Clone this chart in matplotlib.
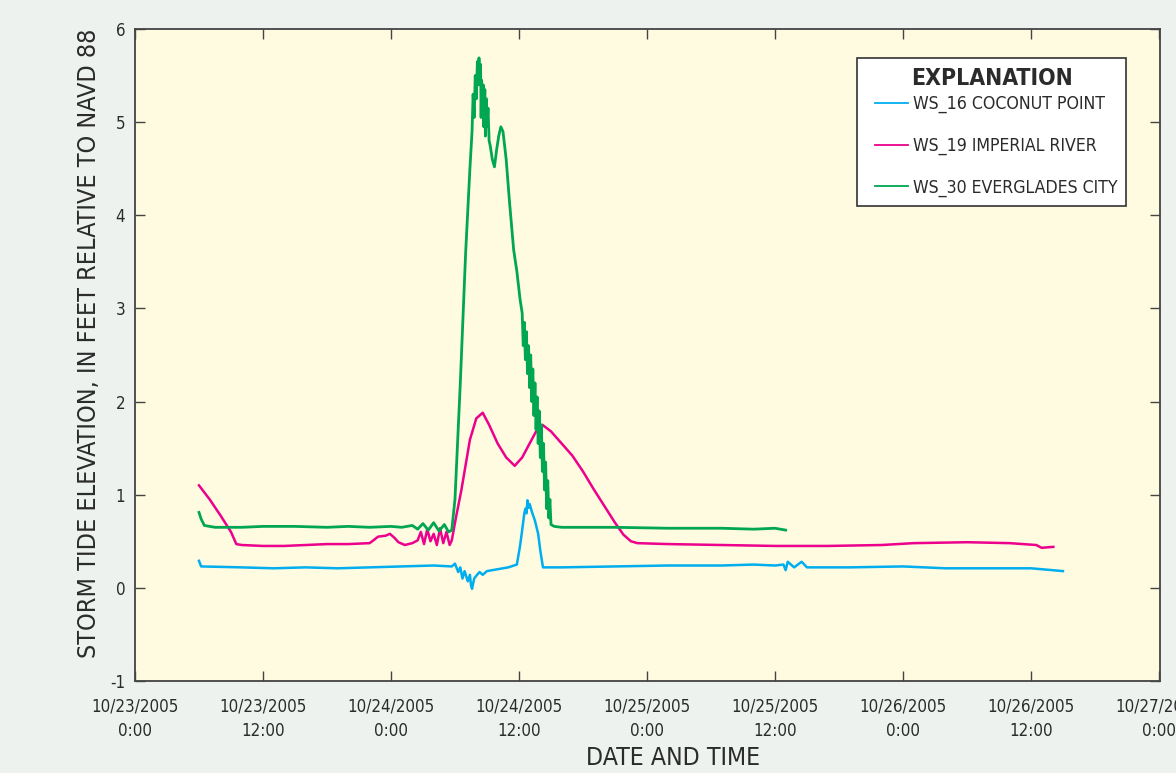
import matplotlib
matplotlib.use("Agg")
import matplotlib.pyplot as plt
from matplotlib.lines import Line2D
from matplotlib.legend_handler import HandlerLine2D

plt.rcParams['font.family'] = ['DejaVu Sans']
plt.rcParams['font.stretch'] = 'condensed'
plt.rcParams['axes.unicode_minus'] = False

# hours after 10/23/2005 0:00, elevation in feet (NAVD 88)
ws16_hours = [6.0, 6.2, 10, 13, 16, 19, 22, 25, 28, 29.7, 30.0, 30.3, 30.5, 30.7,
              30.9, 31.2, 31.4, 31.5, 31.6, 31.8, 32.0, 32.3, 32.6, 33.0, 34.0,
              35.0, 35.8, 36.1, 36.3, 36.5, 36.6, 36.7, 36.8, 36.9, 37.0, 37.2,
              37.5, 37.8, 38.0, 38.25, 40, 45, 50, 55, 58, 60, 60.8, 61.0, 61.2,
              61.8, 62.5, 63, 67, 72, 76, 80, 84, 86, 87]
ws16_vals = [0.29, 0.23, 0.22, 0.21, 0.22, 0.21, 0.22, 0.23, 0.24, 0.23, 0.26,
             0.17, 0.22, 0.10, 0.18, 0.07, 0.14, 0.03, -0.01, 0.10, 0.13, 0.17,
             0.14, 0.18, 0.20, 0.22, 0.25, 0.45, 0.62, 0.80, 0.85, 0.80, 0.94,
             0.86, 0.90, 0.82, 0.72, 0.58, 0.40, 0.22, 0.22, 0.23, 0.24, 0.24,
             0.25, 0.24, 0.25, 0.19, 0.28, 0.22, 0.28, 0.22, 0.22, 0.23, 0.21,
             0.21, 0.21, 0.19, 0.18]

ws19_hours = [6.0, 7.0, 8.0, 9.0, 9.5, 10, 12, 14, 16, 18, 20, 22.0, 22.8, 23.5,
              23.9, 24.3, 24.7, 25.3, 26.0, 26.5, 26.8, 27.1, 27.4, 27.7, 28.0,
              28.3, 28.6, 28.9, 29.2, 29.5, 29.7, 30.1, 30.6, 31.4, 32.0, 32.6,
              33.2, 34.0, 34.8, 35.6, 36.3, 37.0, 37.7, 38.2, 39.0, 40.0, 41.0,
              42.0, 43.0, 44.0, 45.0, 45.8, 46.5, 47.1, 50, 55, 60, 65, 70, 73,
              78, 82, 84.5, 85, 86.1]
ws19_vals = [1.10, 0.95, 0.78, 0.60, 0.47, 0.46, 0.45, 0.45, 0.46, 0.47, 0.47,
             0.48, 0.55, 0.56, 0.58, 0.54, 0.49, 0.46, 0.48, 0.51, 0.60, 0.47,
             0.63, 0.50, 0.58, 0.46, 0.64, 0.48, 0.60, 0.46, 0.51, 0.76, 1.05,
             1.59, 1.82, 1.88, 1.75, 1.55, 1.40, 1.31, 1.40, 1.55, 1.70, 1.75,
             1.68, 1.55, 1.42, 1.25, 1.06, 0.88, 0.70, 0.57, 0.50, 0.48, 0.47,
             0.46, 0.45, 0.45, 0.46, 0.48, 0.49, 0.48, 0.46, 0.43, 0.44]

ws30_hours = [6.0, 6.2, 6.5, 7.5, 10, 12, 15, 18, 20, 22, 24, 25, 26, 26.5, 27,
              27.5, 28, 28.5, 29, 29.4, 29.7, 30.0, 30.5, 31.0, 31.4, 31.6, 31.7,
              31.8, 31.9, 32.0, 32.1, 32.2, 32.25, 32.3, 32.4, 32.45, 32.5, 32.6,
              32.65, 32.7, 32.8, 32.85, 32.95, 33.0, 33.1, 33.2, 33.3, 33.5,
              33.7, 33.9, 34.1, 34.3, 34.5, 34.8, 35.1, 35.5, 35.8, 36.1, 36.3,
              36.4, 36.5, 36.6, 36.7, 36.8, 36.9, 37.0, 37.1, 37.2, 37.3, 37.4,
              37.5, 37.6, 37.7, 37.8, 37.9, 38.0, 38.1, 38.2, 38.3, 38.4, 38.5,
              38.6, 38.7, 38.8, 38.9, 39.0, 39.3, 40, 45, 50, 55, 58, 60, 61]
ws30_vals = [0.81, 0.74, 0.67, 0.65, 0.65, 0.66, 0.66, 0.65, 0.66, 0.65, 0.66,
             0.65, 0.67, 0.63, 0.69, 0.62, 0.70, 0.61, 0.68, 0.60, 0.62, 0.95,
             2.20, 3.60, 4.50, 4.90, 5.30, 5.05, 5.50, 5.25, 5.65, 5.40, 5.69,
             5.50, 5.62, 5.05, 5.45, 5.10, 5.40, 4.95, 5.35, 4.85, 5.25, 4.95,
             5.15, 4.80, 4.75, 4.60, 4.52, 4.70, 4.85, 4.95, 4.90, 4.60, 4.16,
             3.63, 3.40, 3.10, 2.95, 2.60, 2.85, 2.45, 2.75, 2.30, 2.60, 2.15,
             2.50, 2.00, 2.35, 1.85, 2.20, 1.70, 2.05, 1.55, 1.90, 1.40, 1.75,
             1.25, 1.55, 1.05, 1.35, 0.85, 1.15, 0.75, 0.95, 0.68, 0.66, 0.65,
             0.65, 0.64, 0.64, 0.63, 0.64, 0.62]

tick_hours = [0, 12, 24, 36, 48, 60, 72, 84, 96]
tick_labels = ['10/23/2005\n0:00', '10/23/2005\n12:00', '10/24/2005\n0:00',
               '10/24/2005\n12:00', '10/25/2005\n0:00', '10/25/2005\n12:00',
               '10/26/2005\n0:00', '10/26/2005\n12:00', '10/27/2005\n0:00']

text_color = '#2b2b2b'
fig = plt.figure(figsize=(11.76, 7.73), dpi=100, facecolor='#edf2ef')
ax = fig.add_axes([135 / 1176, 92 / 773, 1025 / 1176, 652 / 773])
ax.set_facecolor('#fefbe0')

ax.plot(ws16_hours, ws16_vals, color='#00aeef', lw=1.8, label='WS_16 COCONUT POINT')
ax.plot(ws19_hours, ws19_vals, color='#ec008c', lw=1.8, label='WS_19 IMPERIAL RIVER')
ax.plot(ws30_hours, ws30_vals, color='#00a651', lw=2.0, label='WS_30 EVERGLADES CITY')

ax.set_xlim(0, 96.1)
ax.set_ylim(-1, 6)
ax.set_xticks(tick_hours)
ax.set_xticklabels(tick_labels, linespacing=1.45)
ax.set_yticks(range(-1, 7))
ax.tick_params(direction='in', length=7, width=1, colors='#444444',
               labelcolor=text_color, labelsize=12.2, top=True, right=True)
ax.tick_params(axis='x', pad=12)
ax.tick_params(axis='y', pad=7)
for s in ax.spines.values():
    s.set_color('#444444')
    s.set_linewidth(1.3)

ax.set_xlabel('DATE AND TIME', fontsize=17.8, color=text_color)
ax.xaxis.set_label_coords(0.525, -0.099)
ax.set_ylabel('STORM TIDE ELEVATION, IN FEET RELATIVE TO NAVD 88', fontsize=18,
              color=text_color)
ax.yaxis.set_label_coords(-0.033, 0.518)

leg = ax.legend(loc='upper right', bbox_to_anchor=(0.967, 0.956), frameon=True,
                fancybox=False, framealpha=1, edgecolor='#333333', fontsize=12.7,
                title='EXPLANATION', handlelength=2.36, handletextpad=0.29,
                borderpad=0.5, labelspacing=1.33, borderaxespad=0,
                handler_map={Line2D: HandlerLine2D(xpad=0.52)})
leg._legend_box.sep = 4
leg.get_title().set_fontweight('bold')
leg.get_title().set_fontsize(16.5)
leg.get_title().set_color(text_color)
leg.get_frame().set_linewidth(1.2)
for t in leg.get_texts():
    t.set_color(text_color)
for h in leg.get_lines():
    h.set_linewidth(1.3)

fig.savefig('out.png', dpi=100, facecolor=fig.get_facecolor())
